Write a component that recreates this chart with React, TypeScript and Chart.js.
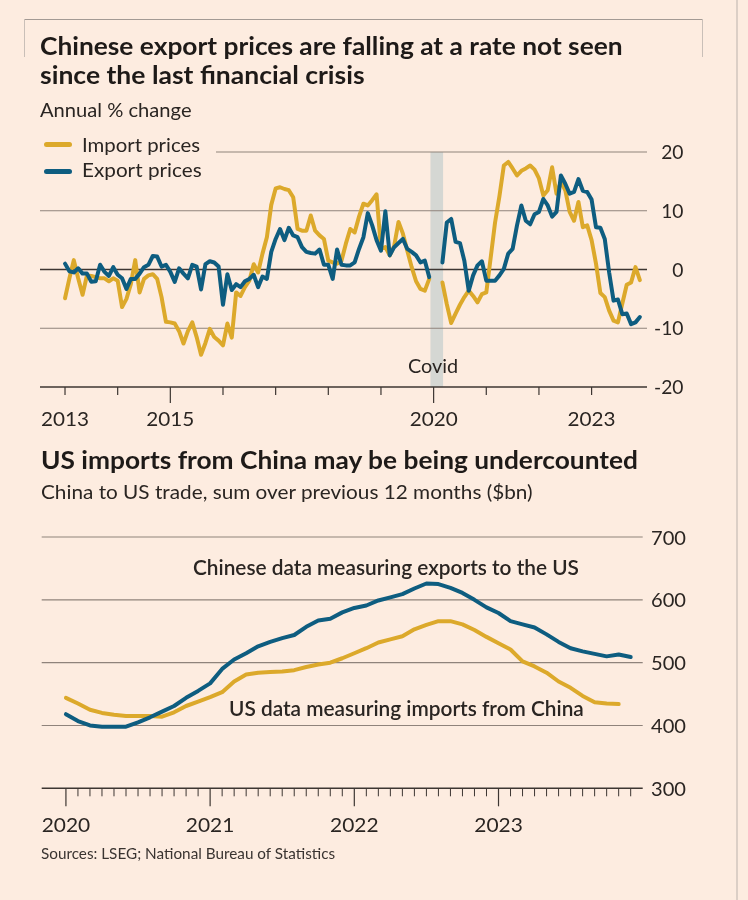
import React, { useEffect, useLayoutEffect, useRef } from "react";
import { Chart, registerables } from "chart.js";

Chart.register(...registerables);

// ---------- colours ----------
const BG = "#fdece0";
const GOLD = "#dca92b";
const TEAL = "#0e5d80";
const INK = "#2a2522";
const GRID = "#8f837b";
const AXIS = "#3d3632";
const BAND = "#d5d7d3";
const TXT_FONT = 'Lato, "Noto Sans", "DejaVu Sans", sans-serif';

// ---------- top chart data: annual % change, monthly from Jan 2013 ----------
const topStartYear = 2013;
const importPrices: (number | null)[] = [
  -4.9, -1.5, 1.6, -1.5, -4.3, -1.0, -1.1, -1.3, -1.5, -1.5, -2.0, -1.5,
  -1.9, -6.4, -5.0, -2.5, 1.6, -3.9, -1.6, -1.0, -0.8, -1.6, -4.7, -8.9,
  -9.0, -9.2, -10.5, -12.6, -10.5, -9.0, -11.5, -14.5, -12.5, -10.1, -11.5, -12.1,
  -12.9, -9.2, -11.6, -3.9, -4.5, -3.0, -1.9, 0.9, -0.5, 2.7, 5.5, 11.0,
  13.8, 14.0, 13.7, 13.5, 12.3, 6.9, 6.6, 6.6, 9.2, 6.6, 5.8, 5.2,
  1.5, 1.2, 1.0, 1.5, 4.4, 6.9, 6.3, 9.0, 11.2, 10.9, 11.8, 12.8,
  3.5, 3.8, 2.4, 4.0, 8.1, 6.1, 3.2, 0.4, -2.0, -3.3, -3.6, -1.6,
  null, null, -2.2, -5.9, -9.1, -7.5, -6.0, -4.7, -3.6, -4.5, -5.6, -4.2,
  -3.9, 2.0, 8.0, 12.5, 17.7, 18.3, 17.2, 16.0, 16.8, 17.2, 17.7, 17.0,
  15.5, 12.6, 13.5, 17.4, 12.9, 14.9, 13.5, 9.8, 8.3, 11.5, 7.2, 7.5,
  5.0, 1.0, -4.0, -4.7, -7.0, -8.7, -9.0, -5.8, -2.6, -2.2, 0.4, -1.8,
];
const exportPrices: (number | null)[] = [
  1.0, -0.3, -0.5, 0.2, -0.7, -0.7, -2.1, -2.0, 0.8, -0.4, -1.1, 0.4,
  -0.9, -1.5, -3.3, -1.6, -1.6, -0.7, 0.4, 0.8, 2.3, 2.2, 0.5, 0.8,
  -0.4, -2.1, 0.2, -0.7, -1.5, 0.8, 0.5, -3.4, 0.9, 1.4, 1.2, 0.5,
  -6.0, -0.8, -3.5, -2.5, -3.0, -2.0, -1.6, -0.9, -3.0, -1.2, -1.6, 3.0,
  5.2, 6.9, 5.0, 7.1, 5.8, 5.5, 3.8, 3.0, 2.8, 2.7, 3.4, 0.8,
  0.8, -1.6, 3.4, 0.8, 0.7, 0.7, 1.2, 3.5, 5.5, 9.6, 7.5, 5.0,
  3.2, 9.9, 2.4, 3.8, 4.5, 5.2, 3.5, 3.0, 2.4, 1.2, 1.5, -1.3,
  null, null, 1.2, 8.0, 8.6, 4.7, 4.5, 1.5, -3.6, -1.0, 0.7, 1.4,
  -1.9, -1.9, -1.9, -1.0, 0.1, 2.7, 3.5, 7.5, 10.9, 8.3, 7.7, 9.4,
  9.8, 12.0, 10.9, 9.0, 9.8, 16.0, 14.6, 12.9, 13.2, 15.4, 13.4, 13.2,
  11.9, 7.2, 7.1, 5.2, -0.5, -5.3, -5.1, -7.6, -7.5, -9.3, -9.0, -8.1,
];
const topYTicks = [20, 10, 0, -10, -20];
const topTickYears = [2013, 2014, 2015, 2016, 2017, 2018, 2019, 2020, 2021, 2022, 2023];
const topLabelYears = [2013, 2015, 2020, 2023];
const topLongTickYears = [2015, 2020];
const covidPeriod = [2019.94, 2020.18];

// ---------- bottom chart data: $bn, 12-month sum, monthly from Jan 2020 ----------
const bottomStartYear = 2020;
const chinaExportsToUS = [
  418, 407, 400, 398, 398, 398, 405, 413, 422, 431, 444, 455,
  467, 490, 505, 515, 526, 533, 539, 544, 557, 567, 570, 580,
  587, 591, 599, 604, 609, 618, 626, 625, 619, 611, 600, 588,
  579, 566, 561, 556, 545, 533, 523, 518, 514, 510, 513, 509,
];
const usImportsFromChina = [
  444, 435, 425, 420, 417, 415, 415, 415, 414, 421, 431, 438,
  445, 453, 470, 481, 484, 485, 486, 488, 493, 497, 500, 507,
  515, 523, 532, 537, 542, 553, 560, 566, 566, 561, 552, 541,
  531, 521, 502, 494, 484, 470, 460, 447, 437, 435, 434,
];
const bottomYTicks = [700, 600, 500, 400, 300];
const bottomYears = [2020, 2021, 2022, 2023];

// ---------- helpers ----------
function toPoints(values: (number | null)[], startYear: number) {
  return values.map((v, i) => ({ x: startYear + i / 12, y: v }));
}

function scaledText(
  ctx: CanvasRenderingContext2D,
  text: string,
  x: number,
  y: number,
  align: CanvasTextAlign,
  sx: number
) {
  ctx.save();
  ctx.translate(x, y);
  ctx.scale(sx, 1);
  ctx.textAlign = align;
  ctx.textBaseline = "alphabetic";
  ctx.fillText(text, 0, 0);
  ctx.restore();
}

function hLine(ctx: CanvasRenderingContext2D, x0: number, x1: number, y: number, color: string, w: number) {
  ctx.beginPath();
  ctx.strokeStyle = color;
  ctx.lineWidth = w;
  ctx.moveTo(x0, y);
  ctx.lineTo(x1, y);
  ctx.stroke();
}

function vLine(ctx: CanvasRenderingContext2D, x: number, y0: number, y1: number, color: string, w: number) {
  ctx.beginPath();
  ctx.strokeStyle = color;
  ctx.lineWidth = w;
  ctx.moveTo(x, y0);
  ctx.lineTo(x, y1);
  ctx.stroke();
}

const LABEL_FONT = `19px ${TXT_FONT}`;

const topDecor = {
  id: "topDecor",
  beforeDatasetsDraw(chart: any) {
    const { ctx, chartArea: ca, scales } = chart;
    const xs = scales.x;
    const ys = scales.y;
    ctx.save();
    // covid band
    const bx0 = xs.getPixelForValue(covidPeriod[0]);
    const bx1 = xs.getPixelForValue(covidPeriod[1]);
    ctx.fillStyle = BAND;
    ctx.fillRect(bx0, ca.top, bx1 - bx0, ca.bottom - ca.top);
    // grid
    topYTicks.forEach((v) => {
      const py = ys.getPixelForValue(v);
      if (v === -20) return;
      const x0 = v === 20 ? 216 : ca.left;
      if (v === 0) hLine(ctx, x0, ca.right, py, AXIS, 1.6);
      else hLine(ctx, x0, ca.right, py, GRID, 1.1);
    });
    // axis + ticks
    const ay = ys.getPixelForValue(-20);
    hLine(ctx, ca.left, ca.right, ay, AXIS, 1.5);
    topTickYears.forEach((yr) => {
      const px = xs.getPixelForValue(yr);
      const long = topLongTickYears.includes(yr);
      vLine(ctx, px, ay, ay + (long ? 16 : 8), AXIS, 1.2);
    });
    ctx.restore();
  },
  afterDraw(chart: any) {
    const { ctx, scales } = chart;
    const xs = scales.x;
    const ys = scales.y;
    ctx.save();
    ctx.font = LABEL_FONT;
    ctx.fillStyle = INK;
    const sxY = 22.3 / ctx.measureText("20").width;
    topYTicks.forEach((v) => {
      scaledText(ctx, String(v), 683.5, ys.getPixelForValue(v) + 7, "right", sxY);
    });
    const sxX = 48 / ctx.measureText("2013").width;
    const ay = ys.getPixelForValue(-20);
    topLabelYears.forEach((yr) => {
      scaledText(ctx, String(yr), xs.getPixelForValue(yr), ay + 38.5, "center", sxX);
    });
    ctx.restore();
  },
};

const bottomDecor = {
  id: "bottomDecor",
  beforeDatasetsDraw(chart: any) {
    const { ctx, chartArea: ca, scales } = chart;
    const xs = scales.x;
    const ys = scales.y;
    ctx.save();
    bottomYTicks.forEach((v) => {
      if (v === 300) return;
      hLine(ctx, ca.left, ca.right, ys.getPixelForValue(v), GRID, 1.1);
    });
    const ay = ys.getPixelForValue(300);
    hLine(ctx, ca.left, ca.right, ay, AXIS, 1.5);
    for (let m = 0; m < bottomYears.length * 12; m++) {
      const px = xs.getPixelForValue(bottomStartYear + m / 12);
      const major = m % 12 === 0;
      vLine(ctx, px, ay, ay + (major ? 18 : 8), AXIS, major ? 1.2 : 1);
    }
    ctx.restore();
  },
  afterDraw(chart: any) {
    const { ctx, scales } = chart;
    const xs = scales.x;
    const ys = scales.y;
    ctx.save();
    ctx.font = LABEL_FONT;
    ctx.fillStyle = INK;
    const sxY = 35 / ctx.measureText("700").width;
    bottomYTicks.forEach((v) => {
      scaledText(ctx, String(v), 686, ys.getPixelForValue(v) + 7.5, "right", sxY);
    });
    const sxX = 48.5 / ctx.measureText("2020").width;
    const ay = ys.getPixelForValue(300);
    bottomYears.forEach((yr) => {
      scaledText(ctx, String(yr), xs.getPixelForValue(yr), ay + 44, "center", sxX);
    });
    ctx.restore();
  },
};

function lineDataset(data: any[], color: string) {
  return {
    data,
    borderColor: color,
    borderWidth: 4,
    pointRadius: 0,
    tension: 0,
    spanGaps: false,
    borderJoinStyle: "round" as const,
    borderCapStyle: "round" as const,
    fill: false,
  };
}

function ChartCanvas({ top, height, build }: { top: number; height: number; build: (c: HTMLCanvasElement) => Chart }) {
  const ref = useRef<HTMLCanvasElement>(null);
  useEffect(() => {
    const chart = build(ref.current!);
    return () => chart.destroy();
  }, []);
  return (
    <canvas
      ref={ref}
      width={748}
      height={height}
      style={{ position: "absolute", left: 0, top, width: 748, height }}
    />
  );
}

function buildTop(canvas: HTMLCanvasElement) {
  return new Chart(canvas, {
    type: "line",
    data: {
      datasets: [
        lineDataset(toPoints(exportPrices, topStartYear), TEAL),
        lineDataset(toPoints(importPrices, topStartYear), GOLD),
      ],
    },
    options: {
      animation: false,
      responsive: false,
      maintainAspectRatio: false,
      events: [],
      layout: { padding: { left: 40, right: 101, top: 152, bottom: 63 } },
      plugins: { legend: { display: false }, tooltip: { enabled: false } },
      scales: {
        x: { type: "linear", min: 2012.525, max: 2024.052, display: false },
        y: { type: "linear", min: -20, max: 20, display: false },
      },
    },
    plugins: [topDecor],
  } as any);
}

function buildBottom(canvas: HTMLCanvasElement) {
  return new Chart(canvas, {
    type: "line",
    data: {
      datasets: [
        lineDataset(toPoints(chinaExportsToUS, bottomStartYear), TEAL),
        lineDataset(toPoints(usImportsFromChina, bottomStartYear), GOLD),
      ],
    },
    options: {
      animation: false,
      responsive: false,
      maintainAspectRatio: false,
      events: [],
      layout: { padding: { left: 41.7, right: 105.3, top: 87, bottom: 111.7 } },
      plugins: { legend: { display: false }, tooltip: { enabled: false } },
      scales: {
        x: { type: "linear", min: 2019.832, max: 2024.0, display: false },
        y: { type: "linear", min: 300, max: 700, display: false },
      },
    },
    plugins: [bottomDecor],
  } as any);
}

// ---------- text that is squeezed to the reference width ----------
type TProps = {
  text: string;
  x: number;
  base: number;
  w: number;
  size: number;
  weight?: number;
  color?: string;
  align?: "left" | "center";
};

function FitText({ text, x, base, w, size, weight = 400, color = INK, align = "left" }: TProps) {
  const box = useRef<HTMLDivElement>(null);
  const span = useRef<HTMLSpanElement>(null);
  const mark = useRef<HTMLSpanElement>(null);
  useLayoutEffect(() => {
    const fit = () => {
      const b = box.current;
      const s = span.current;
      const m = mark.current;
      if (!b || !s || !m) return;
      const natural = s.offsetWidth || 1;
      b.style.left = (align === "center" ? x - w / 2 : x) + "px";
      b.style.top = base - m.offsetTop + "px";
      b.style.transform = `scaleX(${w / natural})`;
    };
    fit();
    (document as any).fonts?.ready?.then(fit);
  }, [text, x, base, w, size, weight, align]);
  return (
    <div
      ref={box}
      style={{
        position: "absolute",
        left: x,
        top: base - size,
        whiteSpace: "nowrap",
        transformOrigin: "0 0",
        fontFamily: TXT_FONT,
        fontSize: size,
        fontWeight: weight,
        color,
        lineHeight: `${Math.round(size * 1.25)}px`,
      }}
    >
      <span ref={span} style={{ display: "inline-block" }}>
        {text}
      </span>
      <span ref={mark} style={{ display: "inline-block", width: 0, height: 0 }} />
    </div>
  );
}

export default function App() {
  return (
    <div
      style={{
        position: "fixed",
        left: 0,
        top: 0,
        width: 748,
        height: 900,
        background: BG,
        overflow: "hidden",
      }}
    >
      {/* faint frame */}
      <div style={{ position: "absolute", left: 24, top: 19, width: 679, height: 1, background: "#a39a94" }} />
      <div style={{ position: "absolute", left: 24, top: 19, width: 1, height: 38, background: "#c9bfb8" }} />
      <div style={{ position: "absolute", left: 702, top: 19, width: 1, height: 38, background: "#c9bfb8" }} />
      <div style={{ position: "absolute", left: 736, top: 0, width: 1.5, height: 900, background: "#dccfc6" }} />

      <ChartCanvas top={0} height={450} build={buildTop} />
      <ChartCanvas top={450} height={450} build={buildBottom} />

      {/* legend swatches */}
      <div style={{ position: "absolute", left: 44, top: 141.5, width: 28, height: 5, borderRadius: 2.5, background: GOLD }} />
      <div style={{ position: "absolute", left: 44, top: 168.5, width: 28, height: 5, borderRadius: 2.5, background: TEAL }} />

      <FitText text="Chinese export prices are falling at a rate not seen" x={40} base={55} w={583} size={25} weight={700} color="#1e1a18" />
      <FitText text="since the last financial crisis" x={40} base={84} w={324.5} size={25} weight={700} color="#1e1a18" />
      <FitText text="Annual % change" x={40} base={116.5} w={152} size={20} />
      <FitText text="Import prices" x={82} base={151.5} w={118} size={19.5} />
      <FitText text="Export prices" x={82} base={177} w={120} size={19.5} />
      <FitText text="Covid" x={433} base={373.3} w={50.6} size={20} align="center" />

      <FitText text="US imports from China may be being undercounted" x={40.5} base={469} w={596.5} size={25} weight={700} color="#1e1a18" />
      <FitText text="China to US trade, sum over previous 12 months ($bn)" x={40.5} base={499} w={491.5} size={19} />
      <FitText text="Chinese data measuring exports to the US" x={386.3} base={575} w={386} size={20.5} weight={600} align="center" />
      <FitText text="US data measuring imports from China" x={229} base={716} w={355.3} size={20.5} weight={600} />
      <FitText text="Sources: LSEG; National Bureau of Statistics" x={40.5} base={858.5} w={294.5} size={15} color="#3a3431" />
    </div>
  );
}
